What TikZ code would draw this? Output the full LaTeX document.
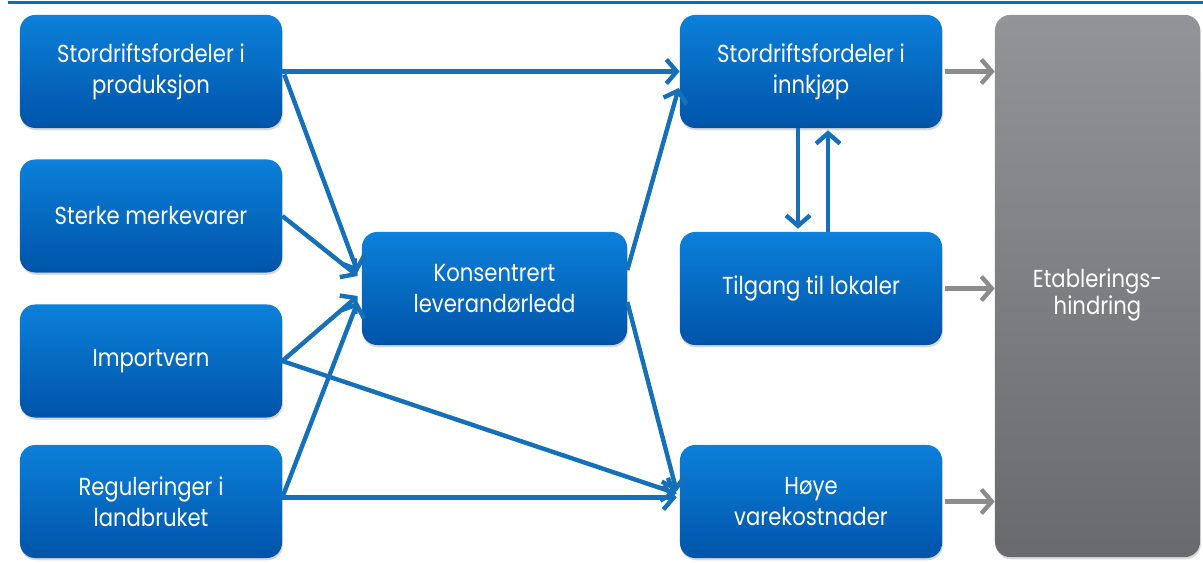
\documentclass[tikz,border=0pt]{standalone}
\usepackage{fontspec}
\setmainfont{Poppins}[FakeStretch=0.86]
\usetikzlibrary{arrows.meta,shadows,calc}
\definecolor{bluetop}{RGB}{12,128,218}
\definecolor{bluebot}{RGB}{0,84,168}
\definecolor{arrowblue}{RGB}{22,112,185}
\definecolor{graytop}{RGB}{146,148,151}
\definecolor{graybot}{RGB}{104,106,109}
\definecolor{grayarrow}{RGB}{140,140,140}
\definecolor{topline}{RGB}{0,112,192}
\begin{document}
\begin{tikzpicture}[x=0.025cm,y=-0.025cm,
  box/.style={rounded corners=0.38cm, top color=bluetop, bottom color=bluebot,
    draw=none, text=white, align=center, font=\fontsize{17.5}{22}\selectfont,
    minimum width=6.55cm, minimum height=2.825cm,
    drop shadow={shadow xshift=0.6pt, shadow yshift=-1.6pt, opacity=0.3}},
  gbox/.style={box, top color=graytop, bottom color=graybot,
    minimum width=5.125cm, minimum height=13.55cm},
  conn/.style={draw=arrowblue, line width=0.11cm,
    -{Straight Barb[length=0.26cm,width=0.6cm]}},
  gconn/.style={draw=grayarrow, line width=0.11cm,
    -{Straight Barb[length=0.26cm,width=0.6cm]}}]
\useasboundingbox (0,0) rectangle (1203,563);
\draw[topline, line width=0.08cm] (8,2.5) -- (1203,2.5);

\node[box] (A) at (151,71.5) {Stordriftsfordeler i\\produksjon};
\node[box] (B) at (151,216) {Sterke merkevarer};
\node[box] (C) at (151,361) {Importvern};
\node[box] (D) at (151,501.5) {Reguleringer i\\landbruket};
\node[box, minimum width=6.625cm] (K) at (494.5,288.5) {Konsentrert\\leverandørledd};
\node[box] (S) at (811,71.5) {Stordriftsfordeler i\\innkjøp};
\node[box] (T) at (811,288.5) {Tilgang til lokaler};
\node[box] (H) at (811,501.5) {Høye\\varekostnader};
\node[gbox] (G) at (1097.5,286) {\raisebox{-0.22cm}[\height][\depth]{\begin{tabular}{@{}c@{}}Etablerings-\\[-3pt]hindring\end{tabular}}};

\draw[conn] (A.east) -- (S.west);
\draw[conn] ($(A.east)+(2,3)$) -- ($(K.west)+(-4,-16.5)$);
\draw[conn] (B.east) -- ($(K.west)+(-4,-12.5)$);
\draw[conn] (C.east) -- ($(K.west)+(-4,7.5)$);
\draw[conn] ($(D.east)+(0,-4)$) -- ($(K.west)+(-4,13.5)$);
\draw[conn] (C.east) -- ($(H.west)+(-3,-8)$);
\draw[conn] ($(D.east)+(0,-4)$) -- ($(H.west)+(-3,-4)$);
\draw[conn] ($(K.east)+(0,-18.5)$) -- ($(S.west)+(-1,16.5)$);
\draw[conn] ($(K.east)+(0,13.5)$) -- ($(H.west)+(-3,-10)$);
\draw[conn] ($(S.south)+(-13,0)$) -- ($(T.north)+(-13,-3)$);
\draw[conn] ($(T.north)+(17,0)$) -- ($(S.south)+(17,2)$);
\draw[gconn] ($(S.east)+(3,0)$) -- (S.east -| G.west);
\draw[gconn] ($(T.east)+(3,0)$) -- (T.east -| G.west);
\draw[gconn] ($(H.east)+(3,0)$) -- (H.east -| G.west);
\end{tikzpicture}
\end{document}
